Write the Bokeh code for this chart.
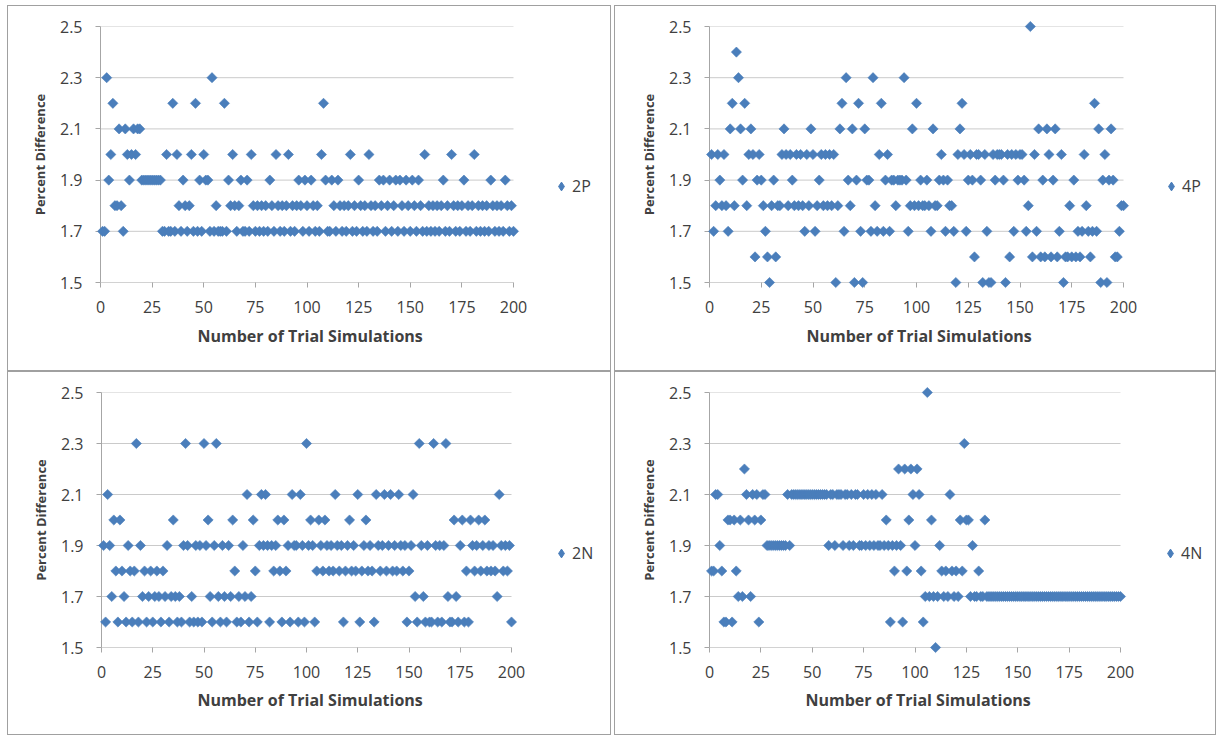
import math
from bokeh.plotting import figure
from bokeh.models import Range1d, FixedTicker, Legend, LegendItem, Title
from bokeh.layouts import row, column
from bokeh.embed import file_html
from bokeh.resources import INLINE

# ---------------- data ----------------
trials = list(range(1, 201))
x_ticks = [0, 25, 50, 75, 100, 125, 150, 175, 200]
y_ticks = [1.5, 1.7, 1.9, 2.1, 2.3, 2.5]
x_title = "Number of Trial Simulations"
y_title = "Percent Difference"
series_names = ["2P", "4P", "2N", "4N"]

pd_2p = [
    1.7, 1.7, 2.3, 1.9, 2.0, 2.2, 1.8, 1.8, 2.1, 1.8,
    1.7, 2.1, 2.0, 1.9, 2.0, 2.1, 2.0, 2.1, 2.1, 1.9,
    1.9, 1.9, 1.9, 1.9, 1.9, 1.9, 1.9, 1.9, 1.9, 1.7,
    1.7, 2.0, 1.7, 1.7, 2.2, 1.7, 2.0, 1.8, 1.7, 1.9,
    1.8, 1.7, 1.8, 2.0, 1.7, 2.2, 1.7, 1.9, 1.7, 2.0,
    1.9, 1.9, 1.7, 2.3, 1.7, 1.8, 1.7, 1.7, 1.7, 2.2,
    1.7, 1.9, 1.8, 2.0, 1.8, 1.7, 1.8, 1.9, 1.7, 1.7,
    1.9, 1.7, 2.0, 1.8, 1.7, 1.8, 1.7, 1.8, 1.7, 1.8,
    1.7, 1.9, 1.8, 1.7, 2.0, 1.8, 1.7, 1.8, 1.7, 1.8,
    2.0, 1.7, 1.8, 1.7, 1.8, 1.9, 1.8, 1.7, 1.9, 1.8,
    1.7, 1.9, 1.8, 1.7, 1.8, 1.7, 2.0, 2.2, 1.9, 1.7,
    1.7, 1.9, 1.8, 1.7, 1.9, 1.8, 1.7, 1.8, 1.7, 1.8,
    2.0, 1.7, 1.8, 1.7, 1.9, 1.8, 1.7, 1.8, 1.7, 2.0,
    1.8, 1.7, 1.8, 1.7, 1.9, 1.8, 1.9, 1.7, 1.8, 1.9,
    1.7, 1.8, 1.9, 1.7, 1.9, 1.8, 1.7, 1.9, 1.8, 1.7,
    1.9, 1.8, 1.7, 1.9, 1.8, 1.7, 2.0, 1.7, 1.8, 1.7,
    1.8, 1.7, 1.8, 1.7, 1.8, 1.9, 1.7, 1.8, 1.7, 2.0,
    1.8, 1.7, 1.8, 1.7, 1.8, 1.9, 1.7, 1.8, 1.7, 1.8,
    2.0, 1.7, 1.8, 1.7, 1.8, 1.7, 1.8, 1.7, 1.9, 1.8,
    1.7, 1.8, 1.7, 1.8, 1.7, 1.9, 1.8, 1.7, 1.8, 1.7,
]

pd_4p = [
    2.0, 1.7, 1.8, 2.0, 1.9, 1.8, 2.0, 1.8, 1.7, 2.1,
    2.2, 1.8, 2.4, 2.3, 2.1, 1.9, 2.2, 1.8, 2.0, 2.1,
    2.0, 1.6, 1.9, 2.0, 1.9, 1.8, 1.7, 1.6, 1.5, 1.8,
    1.9, 1.6, 1.8, 1.8, 2.0, 2.1, 2.0, 1.8, 2.0, 1.9,
    1.8, 2.0, 1.8, 2.0, 1.8, 1.7, 2.0, 1.8, 2.1, 2.0,
    1.7, 1.8, 1.9, 2.0, 1.8, 2.0, 1.8, 2.0, 1.8, 2.0,
    1.5, 1.8, 2.1, 2.2, 1.7, 2.3, 1.9, 1.8, 2.1, 1.5,
    1.9, 2.2, 1.7, 1.5, 2.1, 1.9, 1.9, 1.7, 2.3, 1.8,
    1.7, 2.0, 2.2, 1.7, 1.9, 2.0, 1.7, 1.9, 1.9, 1.8,
    1.9, 1.9, 1.9, 2.3, 1.9, 1.7, 1.8, 2.1, 1.8, 2.2,
    1.8, 1.9, 1.8, 1.8, 1.9, 1.8, 1.7, 2.1, 1.8, 1.8,
    1.9, 2.0, 1.9, 1.7, 1.9, 1.8, 1.8, 1.7, 1.5, 2.0,
    2.1, 2.2, 2.0, 1.7, 1.9, 2.0, 1.9, 1.6, 2.0, 2.0,
    1.9, 1.5, 2.0, 1.7, 1.5, 1.5, 2.0, 1.9, 2.0, 2.0,
    2.0, 1.9, 1.5, 2.0, 1.6, 2.0, 1.7, 2.0, 1.9, 2.0,
    2.0, 1.9, 1.7, 1.8, 2.5, 1.6, 2.0, 1.7, 2.1, 1.6,
    1.9, 1.6, 2.1, 2.0, 1.6, 1.9, 2.1, 1.6, 1.7, 2.0,
    1.5, 1.6, 1.6, 1.8, 1.6, 1.9, 1.6, 1.7, 1.6, 1.7,
    2.0, 1.8, 1.7, 1.6, 1.7, 2.2, 1.7, 2.1, 1.5, 1.9,
    2.0, 1.5, 1.9, 2.1, 1.9, 1.6, 1.6, 1.7, 1.8, 1.8,
]

pd_2n = [
    1.9, 1.6, 2.1, 1.9, 1.7, 2.0, 1.8, 1.6, 2.0, 1.8,
    1.7, 1.6, 1.9, 1.8, 1.6, 1.8, 2.3, 1.6, 1.9, 1.7,
    1.8, 1.6, 1.7, 1.8, 1.6, 1.7, 1.8, 1.7, 1.6, 1.8,
    1.7, 1.9, 1.6, 1.7, 2.0, 1.7, 1.6, 1.7, 1.6, 1.9,
    2.3, 1.9, 1.6, 1.7, 1.6, 1.9, 1.6, 1.9, 1.6, 2.3,
    1.9, 2.0, 1.7, 1.6, 1.9, 2.3, 1.7, 1.6, 1.9, 1.7,
    1.6, 1.9, 1.7, 2.0, 1.8, 1.6, 1.7, 1.6, 1.9, 1.7,
    2.1, 1.6, 1.7, 2.0, 1.8, 1.6, 1.9, 2.1, 1.9, 2.1,
    1.9, 1.6, 1.9, 1.8, 1.9, 2.0, 1.8, 1.6, 2.0, 1.8,
    1.9, 1.6, 2.1, 1.9, 1.9, 1.6, 2.1, 1.9, 1.6, 2.3,
    1.9, 2.0, 1.9, 1.6, 1.8, 2.0, 1.9, 1.8, 2.0, 1.9,
    1.8, 1.9, 1.8, 2.1, 1.9, 1.8, 1.9, 1.6, 1.8, 1.9,
    2.0, 1.8, 1.9, 1.8, 2.1, 1.6, 1.8, 1.9, 2.0, 1.8,
    1.9, 1.8, 1.6, 2.1, 1.9, 1.8, 1.9, 2.1, 1.8, 1.9,
    2.1, 1.8, 1.9, 1.8, 2.1, 1.9, 1.8, 1.9, 1.6, 1.8,
    1.9, 2.1, 1.7, 1.6, 2.3, 1.9, 1.7, 1.6, 1.9, 1.6,
    1.6, 2.3, 1.9, 1.6, 1.9, 1.6, 1.9, 2.3, 1.7, 1.6,
    1.6, 2.0, 1.7, 1.6, 1.9, 2.0, 1.6, 1.8, 1.6, 2.0,
    1.9, 1.8, 1.9, 2.0, 1.8, 1.9, 2.0, 1.8, 1.9, 1.8,
    1.9, 1.8, 1.7, 2.1, 1.9, 1.8, 1.9, 1.8, 1.9, 1.6,
]

pd_4n = [
    1.8, 1.8, 2.1, 2.1, 1.9, 1.8, 1.6, 1.6, 2.0, 2.0,
    1.6, 2.0, 1.8, 1.7, 2.0, 1.7, 2.2, 2.1, 2.0, 1.7,
    2.1, 2.0, 2.1, 1.6, 2.0, 2.1, 2.1, 1.9, 1.9, 1.9,
    1.9, 1.9, 1.9, 1.9, 1.9, 1.9, 1.9, 2.1, 1.9, 2.1,
    2.1, 2.1, 2.1, 2.1, 2.1, 2.1, 2.1, 2.1, 2.1, 2.1,
    2.1, 2.1, 2.1, 2.1, 2.1, 2.1, 2.1, 1.9, 2.1, 2.1,
    1.9, 2.1, 2.1, 2.1, 1.9, 2.1, 2.1, 1.9, 2.1, 1.9,
    2.1, 2.1, 1.9, 1.9, 2.1, 1.9, 2.1, 1.9, 2.1, 1.9,
    2.1, 1.9, 1.9, 2.1, 1.9, 2.0, 1.9, 1.6, 1.9, 1.8,
    1.9, 2.2, 1.9, 1.6, 2.2, 1.8, 2.0, 2.2, 2.1, 1.9,
    2.2, 2.1, 1.8, 1.6, 1.7, 2.5, 1.7, 2.0, 1.7, 1.5,
    1.7, 1.9, 1.8, 1.7, 1.8, 1.7, 2.1, 1.8, 1.7, 1.8,
    1.7, 2.0, 1.8, 2.3, 2.0, 2.0, 1.7, 1.9, 1.7, 1.7,
    1.8, 1.7, 1.7, 2.0, 1.7, 1.7, 1.7, 1.7, 1.7, 1.7,
    1.7, 1.7, 1.7, 1.7, 1.7, 1.7, 1.7, 1.7, 1.7, 1.7,
    1.7, 1.7, 1.7, 1.7, 1.7, 1.7, 1.7, 1.7, 1.7, 1.7,
    1.7, 1.7, 1.7, 1.7, 1.7, 1.7, 1.7, 1.7, 1.7, 1.7,
    1.7, 1.7, 1.7, 1.7, 1.7, 1.7, 1.7, 1.7, 1.7, 1.7,
    1.7, 1.7, 1.7, 1.7, 1.7, 1.7, 1.7, 1.7, 1.7, 1.7,
    1.7, 1.7, 1.7, 1.7, 1.7, 1.7, 1.7, 1.7, 1.7, 1.7,
]

# ---------------- style ----------------
MARKER = "#4A7EBB"
FONT = "Open Sans"
TEXT = "#404040"
AXIS = "#A6A6A6"
GRID = "#CACACA"
NAN = float("nan")


def make_panel(values, name, w, h, left, plot_px, top, bottom, leg_x, leg_y,
               title_off, title_standoff):
    right = 4
    frame_w = w - left - right
    # the frame is wider than the 0..200 data area so that the legend,
    # which sits right of the data area, is not clipped
    x_end = x_ticks[-1] * frame_w / plot_px
    p = figure(width=w, height=h,
               x_range=Range1d(x_ticks[0], x_end),
               y_range=Range1d(y_ticks[0], y_ticks[-1]),
               output_backend="svg", toolbar_location=None,
               min_border_left=left, min_border_right=right,
               min_border_top=top, min_border_bottom=bottom,
               background_fill_color="white", border_fill_color="white",
               styles={"border": "1px solid #A0A0A0", "box-sizing": "border-box",
                       "overflow": "hidden"})
    p.outline_line_color = None
    p.xgrid.visible = False
    p.ygrid.visible = False

    # horizontal gridlines over the data area only
    n = len(y_ticks) - 1
    p.segment(x0=[x_ticks[0]] * n, y0=y_ticks[1:], x1=[x_ticks[-1]] * n,
              y1=y_ticks[1:], line_color=GRID, line_width=1)
    # x axis line over the data area only
    p.segment(x0=[x_ticks[0]], y0=[y_ticks[0]], x1=[x_ticks[-1]],
              y1=[y_ticks[0]], line_color=AXIS, line_width=1)

    p.xaxis.ticker = FixedTicker(ticks=x_ticks)
    p.yaxis.ticker = FixedTicker(ticks=y_ticks)
    for ax in (p.xaxis[0], p.yaxis[0]):
        ax.axis_line_color = AXIS
        ax.major_tick_line_color = AXIS
        ax.minor_tick_line_color = None
        ax.major_tick_in = 0
        ax.major_tick_out = 5
        ax.major_label_text_font = FONT
        ax.major_label_text_font_size = "16px"
        ax.major_label_text_color = TEXT
        ax.axis_label_text_font = FONT
        ax.axis_label_text_font_style = "bold"
        ax.axis_label_text_color = TEXT
    p.xaxis.axis_line_color = None
    p.yaxis.axis_label = y_title
    p.yaxis.axis_label_text_font_size = "13px"
    p.xaxis.major_label_standoff = 13
    p.yaxis.major_label_standoff = 13
    p.yaxis.axis_label_standoff = 8

    p.add_layout(Title(text=x_title, align="left", offset=title_off,
                       text_font=FONT, text_font_size="16px",
                       text_font_style="bold", text_color=TEXT,
                       standoff=title_standoff),
                 "below")

    p.scatter(trials, values, marker="square", size=7.2, angle=math.pi / 4,
              fill_color=MARKER, line_color=MARKER, line_width=0.6,
              level="overlay")

    # legend key renderer (one NaN point: draws nothing on the plot itself)
    leg_r = p.scatter(x=[NAN], y=[NAN], marker="diamond", size=9,
                      fill_color=MARKER, line_color=MARKER)
    legend = Legend(items=[LegendItem(label=name, renderers=[leg_r], index=0)],
                    location=(leg_x, leg_y), border_line_color=None,
                    background_fill_alpha=0, padding=0, margin=0, spacing=0,
                    glyph_width=22, glyph_height=22, label_height=22,
                    label_standoff=-6, label_text_font=FONT,
                    label_text_font_size="16px", label_text_color=TEXT)
    p.add_layout(legend, "center")
    return p


p1 = make_panel(pd_2p, series_names[0], 604, 366, 92, 413, 20, 90, 450, 85, 97, 15)
p2 = make_panel(pd_4p, series_names[1], 602, 366, 94, 414, 20, 90, 451, 85, 97, 15)
p3 = make_panel(pd_2n, series_names[2], 604, 364, 93, 410, 20, 89, 449, 83, 96, 13)
p4 = make_panel(pd_4n, series_names[3], 602, 364, 94, 411, 20, 89, 450, 83, 96, 13)

layout = column(row(p1, p2, spacing=3), row(p3, p4, spacing=3), spacing=0,
                margin=(5, 0, 0, 7))

open("out.html", "w").write(file_html(layout, INLINE))
